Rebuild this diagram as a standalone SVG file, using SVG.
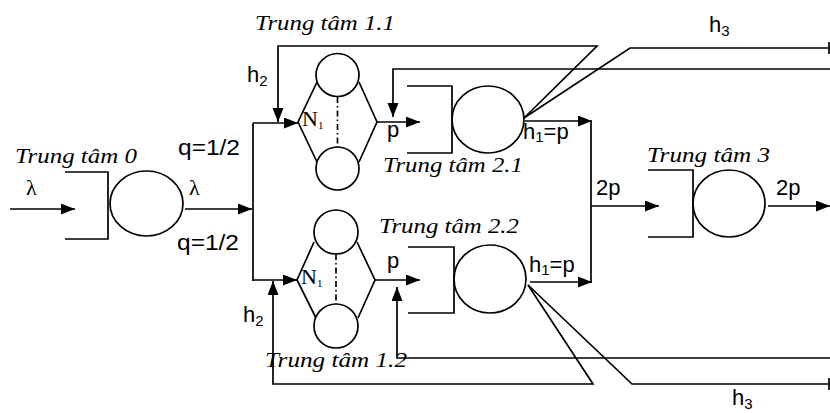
<svg xmlns="http://www.w3.org/2000/svg" width="830" height="413" viewBox="0 0 830 413">
<style>
.ln{fill:none;stroke:#000;stroke-width:1.7}
.sh{fill:#fff;stroke:#000;stroke-width:1.7}
.it{font-family:"Liberation Serif",serif;font-style:italic;font-size:22px;fill:#000}
.sn{font-family:"Liberation Sans",Arial,sans-serif;font-size:22px;fill:#000}
.sub{font-size:15px}
.sr{font-family:"Liberation Serif",serif;font-size:22px;fill:#000}
.ar{marker-end:url(#ah)}
</style>
<defs>
<marker id="ah" markerUnits="userSpaceOnUse" markerWidth="15" markerHeight="12" refX="14" refY="5.5" orient="auto">
<path d="M0,0 L14,5.5 L0,11 z" fill="#000"/>
</marker>
</defs>
<g id="connectors">
<path class="ln ar" d="M10,209 H75"/>
<path class="ln ar" d="M185,209 H252"/>
<path class="ln" d="M253,123 V281"/>
<path class="ln ar" d="M253,123 H298"/>
<path class="ln ar" d="M253,280 H297"/>
<path class="ln ar" d="M524,118 L597,46 H278 V122"/>
<path class="ln ar" d="M528,285 L593,384 H273 V281"/>
<path class="ln ar" d="M830,69 H393 V117"/>
<path class="ln ar" d="M830,358 H397 V287"/>
<path class="ln ar" d="M377,122 H420"/>
<path class="ln ar" d="M375,280 H420"/>
<path class="ln ar" d="M525,121 H592"/>
<path class="ln ar" d="M530,282 H592"/>
<path class="ln" d="M591,121 V283"/>
<path class="ln ar" d="M591,206 H659"/>
<path class="ln ar" d="M768,206 H830"/>
<path class="ln" d="M524,118 L630,48 H829 M829,42 V54"/>
<path class="ln" d="M528,285 L632,384 H829 M829,378 V390"/>
</g>
<g id="center0">
<path class="ln" d="M65,172 H108 V239 H65"/>
<ellipse class="sh" cx="146.5" cy="203.5" rx="36.5" ry="32.5"/>
<text class="it" x="15" y="163" textLength="122" lengthAdjust="spacingAndGlyphs">Trung tâm 0</text>
</g>
<g id="center1_1">
<path class="ln" d="M317,82 L298,122 L317,162 M359,82 L377,122 L359,162"/>
<circle class="sh" cx="337.5" cy="75" r="21.5"/>
<circle class="sh" cx="337.5" cy="168.5" r="21.5"/>
<path class="ln" d="M337.5,97 V147" stroke-dasharray="6,3,1.5,3"/>
<text class="sr" x="302" y="126" font-size="16">N<tspan font-size="11" dy="3">1</tspan></text>
<text class="it" x="255" y="30" textLength="140" lengthAdjust="spacingAndGlyphs">Trung tâm 1.1</text>
</g>
<g id="center1_2">
<path class="ln" d="M314,242 L297,280 L316,318 M357,242 L375,280 L358,318"/>
<circle class="sh" cx="336" cy="232" r="22"/>
<circle class="sh" cx="336" cy="326" r="22"/>
<path class="ln" d="M336,254 V304" stroke-dasharray="6,3,1.5,3"/>
<text class="sr" x="301" y="284" font-size="16">N<tspan font-size="11" dy="3">1</tspan></text>
<text class="it" x="265" y="367" textLength="142" lengthAdjust="spacingAndGlyphs">Trung tâm 1.2</text>
</g>
<g id="center2_1">
<path class="ln" d="M407,86 H452 V153 H407"/>
<ellipse class="sh" cx="488" cy="119.5" rx="36" ry="33.5"/>
<text class="it" x="383" y="172" textLength="140" lengthAdjust="spacingAndGlyphs">Trung tâm 2.1</text>
</g>
<g id="center2_2">
<path class="ln" d="M408,247 H454 V313 H408"/>
<ellipse class="sh" cx="490" cy="279" rx="36" ry="34"/>
<text class="it" x="379" y="233" textLength="140" lengthAdjust="spacingAndGlyphs">Trung tâm 2.2</text>
</g>
<g id="center3">
<path class="ln" d="M648,170 H693 V237 H648"/>
<ellipse class="sh" cx="729" cy="203.5" rx="36" ry="33.5"/>
<text class="it" x="647" y="162" textLength="123" lengthAdjust="spacingAndGlyphs">Trung tâm 3</text>
</g>
<g id="labels">
<text class="sr" x="26" y="195">λ</text>
<text class="sr" x="189" y="195">λ</text>
<text class="sn" x="178" y="155" textLength="62" lengthAdjust="spacingAndGlyphs">q=1/2</text>
<text class="sn" x="177" y="250" textLength="62" lengthAdjust="spacingAndGlyphs">q=1/2</text>
<text class="sn" x="247" y="82">h<tspan class="sub" dy="4">2</tspan></text>
<text class="sn" x="243" y="322">h<tspan class="sub" dy="4">2</tspan></text>
<text class="sn" x="387" y="137">p</text>
<text class="sn" x="387" y="268">p</text>
<text class="sn" x="523" y="139">h<tspan class="sub" dy="3">1</tspan><tspan dy="-3">=p</tspan></text>
<text class="sn" x="529" y="272">h<tspan class="sub" dy="3">1</tspan><tspan dy="-3">=p</tspan></text>
<text class="sn" x="709" y="32">h<tspan class="sub" dy="4">3</tspan></text>
<text class="sn" x="732" y="405">h<tspan class="sub" dy="4">3</tspan></text>
<text class="sn" x="596" y="195">2p</text>
<text class="sn" x="776" y="195">2p</text>
</g>
</svg>
